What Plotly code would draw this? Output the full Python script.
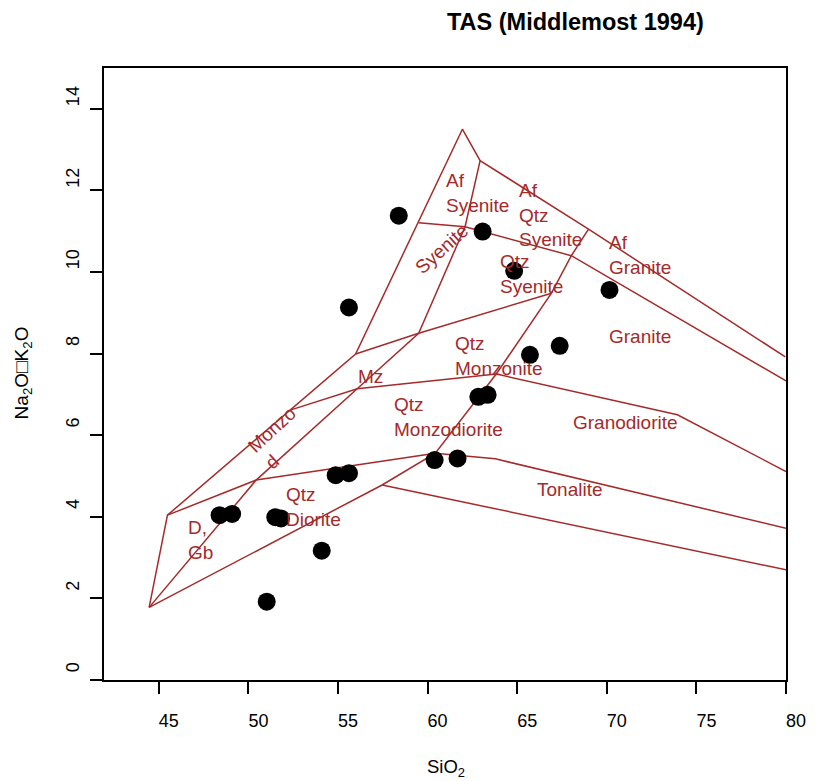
import plotly.graph_objects as go

# ---------------- data ----------------
# sample points (SiO2, Na2O+K2O)
sio2 = [58.39, 63.07, 64.83, 55.61, 70.15, 65.71, 67.37, 62.83, 63.35, 60.39,
        61.67, 54.87, 55.61, 48.39, 49.09, 51.50, 51.82, 54.09, 51.02]
alk = [11.38, 10.99, 10.03, 9.13, 9.56, 7.97, 8.19, 6.94, 6.99, 5.39,
       5.43, 5.02, 5.07, 4.04, 4.07, 3.99, 3.96, 3.17, 1.92]

# field boundary polylines (SiO2, Na2O+K2O)
outer_x = [44.46, 45.48, 55.98, 61.94, 62.93, 68.98, 79.96]
outer_y = [1.78, 4.04, 7.99, 13.50, 12.73, 11.05, 7.92]

diag_x = [44.46, 50.43, 56.07, 59.50, 62.09, 62.93]
diag_y = [1.78, 4.90, 7.14, 8.50, 11.11, 12.73]

mid_x = [45.48, 50.43, 60.43, 63.78, 80.0]
mid_y = [4.04, 4.90, 5.56, 5.42, 3.72]

lower_x = [44.46, 57.46, 60.43, 63.83, 66.91, 68.02, 68.98]
lower_y = [1.78, 4.78, 5.56, 7.50, 9.48, 10.40, 11.05]

qmz_x = [52.37, 56.07, 63.83, 73.94, 80.0]
qmz_y = [6.62, 7.14, 7.50, 6.50, 5.11]

mzu_x = [55.98, 59.50, 66.91]
mzu_y = [7.99, 8.50, 9.48]

sy_x = [59.50, 62.09, 68.02, 80.0]
sy_y = [11.21, 11.11, 10.40, 7.33]

ton_x = [57.46, 80.0]
ton_y = [4.78, 2.70]

boundaries = [(outer_x, outer_y), (diag_x, diag_y), (mid_x, mid_y),
              (lower_x, lower_y), (qmz_x, qmz_y), (mzu_x, mzu_y),
              (sy_x, sy_y), (ton_x, ton_y)]

# field labels (left edge x, middle y)
lab_text = ["Af<br>Syenite", "Af<br>Qtz<br>Syenite", "Af<br>Granite",
            "Qtz<br>Syenite", "Granite", "Qtz<br>Monzonite", "Mz",
            "Qtz<br>Monzodiorite", "Granodiorite", "Tonalite",
            "Qtz<br>Diorite", "D,<br>Gb"]
lab_x = [60.94, 64.96, 70.02, 63.94, 70.02, 61.44, 55.98, 58.02, 68.02, 66.0, 51.96, 46.54]
lab_y = [11.94, 11.40, 10.42, 9.94, 8.41, 7.93, 7.45, 6.45, 6.31, 4.66, 4.23, 3.43]

# rotated labels (centre x, centre y, angle)
rot_text = ["Syenite", "Monzo", "d"]
rot_x = [60.75, 51.31, 51.35]
rot_y = [10.56, 6.15, 5.35]
rot_ang = [-42, -43, -43]

x_ticks = [45, 50, 55, 60, 65, 70, 75, 80]
y_ticks = [0, 2, 4, 6, 8, 10, 12, 14]

# ---------------- figure ----------------
FIELD = "#A52A2A"
FONT = "Liberation Sans, Arial, sans-serif"

fig = go.Figure()
for bx, by in boundaries:
    fig.add_trace(go.Scatter(x=bx, y=by, mode="lines",
                             line=dict(color=FIELD, width=1.5),
                             hoverinfo="skip", showlegend=False))

fig.add_trace(go.Scatter(x=sio2, y=alk, mode="markers",
                         marker=dict(color="black", size=18),
                         showlegend=False))

for t, x, y in zip(lab_text, lab_x, lab_y):
    fig.add_annotation(x=x, y=y, text=t, showarrow=False, xanchor="left",
                       yanchor="middle", align="left",
                       font=dict(family=FONT, size=19, color=FIELD))

for t, x, y, a in zip(rot_text, rot_x, rot_y, rot_ang):
    fig.add_annotation(x=x, y=y, text=t, showarrow=False, textangle=a,
                       xanchor="center", yanchor="middle",
                       font=dict(family=FONT, size=19, color=FIELD))

# title and axis titles
fig.add_annotation(x=0.5, y=1.075, xref="paper", yref="paper",
                   text="<b>TAS (Middlemost 1994)</b>", showarrow=False,
                   xanchor="left", yanchor="middle",
                   font=dict(family=FONT, size=23.5, color="black"))
fig.add_annotation(x=0.502, y=-0.1438, xref="paper", yref="paper",
                   text="SiO<sub>2</sub>", showarrow=False,
                   xanchor="center", yanchor="middle",
                   font=dict(family=FONT, size=18.5, color="black"))
fig.add_annotation(x=-0.1182, y=0.5016, xref="paper", yref="paper",
                   text="Na<sub>2</sub>O\u25a1K<sub>2</sub>O", showarrow=False,
                   textangle=-90, xanchor="center", yanchor="middle",
                   font=dict(family=FONT, size=19, color="black"))

axis_common = dict(showgrid=False, zeroline=False, showline=True, mirror=True,
                   linecolor="black", linewidth=1.8, ticks="outside",
                   ticklen=12, tickwidth=1.5, tickcolor="black",
                   tickfont=dict(family=FONT, size=18, color="black"))

fig.update_xaxes(range=[41.94, 80], tickvals=x_ticks,
                 ticktext=[str(v) for v in x_ticks],
                 ticklabelshift=10, ticklabelstandoff=11, **axis_common)
fig.update_yaxes(range=[0, 15], tickvals=y_ticks,
                 ticktext=[str(v) for v in y_ticks], tickangle=-90,
                 ticklabelshift=-10, ticklabelstandoff=4, **axis_common)

# the page body adds an 8 px offset, so the figure is 8 px smaller
fig.update_layout(width=810, height=773,
                  margin=dict(l=96, r=29, t=60, b=101),
                  paper_bgcolor="white", plot_bgcolor="white",
                  showlegend=False, font=dict(family=FONT))

fig.write_html("out.html")
